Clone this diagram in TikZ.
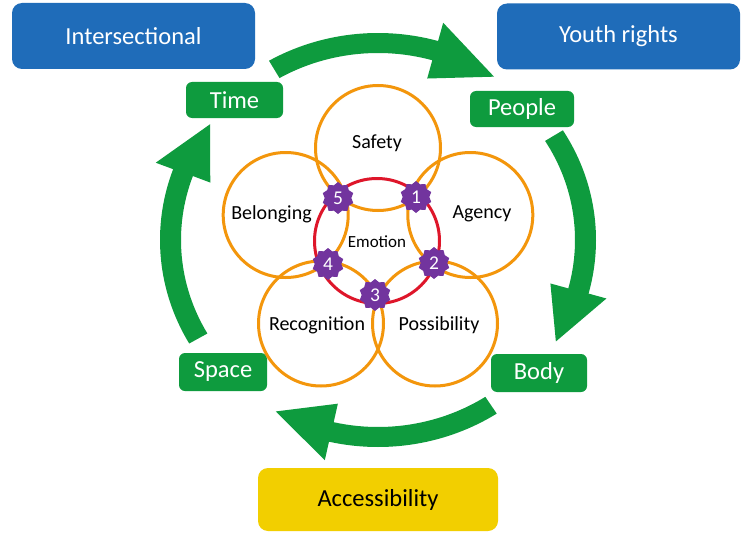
\documentclass[tikz,border=0pt]{standalone}
\usepackage{fontspec}
\setmainfont{Carlito}
\usetikzlibrary{shapes.geometric}
\definecolor{boxblue}{RGB}{31,108,185}
\definecolor{boxyellow}{RGB}{242,207,0}
\definecolor{cyclegreen}{RGB}{14,155,62}
\definecolor{ringorange}{RGB}{243,150,12}
\definecolor{ringred}{RGB}{222,22,42}
\definecolor{badgepurple}{RGB}{114,52,158}
\newcommand\cyclearrow[3]{%
  \fill[cyclegreen]
    ([shift={(cc)}]#1:218 and 207)
    arc[start angle=#1, end angle=#2, x radius=218, y radius=207]
    -- ([shift={(cc)}]#2:236.5 and 226)
    -- ([shift={(cc)}]#3:207.5 and 197)
    -- ([shift={(cc)}]#2:178.5 and 168)
    -- ([shift={(cc)}]#2:197 and 187)
    arc[start angle=#2, end angle=#1, x radius=197, y radius=187]
    -- cycle;}
\begin{document}
\begin{tikzpicture}[x=1pt,y=-1pt,
  bigtext/.style={font=\fontsize{24.5}{28}\selectfont},
  bigbox/.style={bigtext, rounded corners=10pt, text=white, fill=boxblue,
    minimum width=243pt, minimum height=66pt, inner sep=0pt},
  greenbox/.style={bigtext, rounded corners=6pt, text=white, fill=cyclegreen,
    minimum height=36pt, inner sep=0pt},
  ringcircle/.style={draw=ringorange, line width=3pt, circle, minimum size=125pt, inner sep=0pt},
  ringlabel/.style={font=\fontsize{20}{24}\selectfont, text=black, inner sep=0pt},
  badge/.style={star, star points=10, star point ratio=1.2, fill=badgepurple,
    minimum size=32pt, inner sep=0pt, text=white, font=\fontsize{19.5}{22}\selectfont}
]
\useasboundingbox (0,0) rectangle (750,535);
\fill[white] (0,0) rectangle (750,535);
\coordinate (cc) at (378,240);

% cycle arrows
\cyclearrow{240}{286}{304}
\cyclearrow{328}{375}{391}
\cyclearrow{57}{103}{119.5}
\cyclearrow{150}{200}{216}

% corner boxes
\node[bigbox] (inter) at (133.5,36) {Intersectional};
\node[bigbox] (youth) at (618.5,36.5) {Youth rights};
\node[bigbox, fill=boxyellow, text=black, minimum width=240pt, minimum height=63pt] (access) at (378,499.5) {Accessibility};

% green labels
\node[greenbox, minimum width=97pt] (time) at (234.5,100) {Time};
\node[greenbox, minimum width=104pt] (people) at (522,109) {People};
\node[greenbox, minimum width=88pt, minimum height=38pt] (space) at (223,372) {Space};
\node[greenbox, minimum width=96pt, minimum height=38pt] (body) at (539,373) {Body};

% orange circles
\node[ringcircle] (safety) at (378,148) {};
\node[ringcircle] (agency) at (470.3,215) {};
\node[ringcircle] (possibility) at (435,323.5) {};
\node[ringcircle] (recognition) at (321,323.5) {};
\node[ringcircle] (belonging) at (285.7,215) {};
% red emotion circle
\node[draw=ringred, line width=3pt, circle, minimum size=125pt, inner sep=0pt] (emotion) at (377,241) {};

% labels
\node[ringlabel] (tsafety) at (377,143) {Safety};
\node[ringlabel] (tagency) at (482,214) {Agency};
\node[ringlabel] (tpossibility) at (439,325) {Possibility};
\node[ringlabel] (trecognition) at (317,325) {Recognition};
\node[ringlabel] (tbelonging) at (271.5,214) {Belonging};
\node[ringlabel, font=\fontsize{17}{20}\selectfont] (temotion) at (377,242) {Emotion};

% badges
\node[badge] (b1) at (416,197) {1};
\node[badge] (b2) at (434,263) {2};
\node[badge] (b3) at (375,295) {3};
\node[badge] (b4) at (328,264) {4};
\node[badge] (b5) at (338,198) {5};
\end{tikzpicture}
\end{document}
